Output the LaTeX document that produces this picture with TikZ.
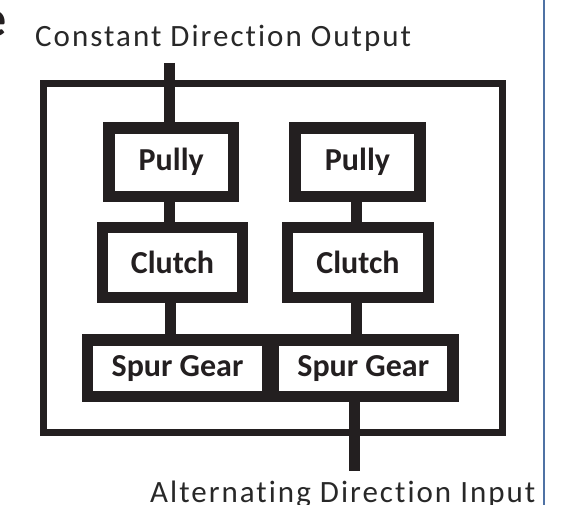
\documentclass[tikz,border=0pt]{standalone}
\usepackage{fontspec}
\setmainfont{Carlito}[Ligatures=NoCommon]
\newfontfamily\labelfont{Carlito}[Ligatures=NoCommon, LetterSpace=6.5]
\definecolor{ink}{RGB}{35,31,32}
\definecolor{txt}{RGB}{40,40,40}
\definecolor{rule}{RGB}{79,114,164}
\tikzset{
  part/.style={draw=ink, line width=11.5pt, rectangle, inner sep=0pt,
    font=\fontsize{32}{36}\selectfont\bfseries, text=ink},
  shaft/.style={draw=ink, line width=11pt},
  housing/.style={draw=ink, line width=7pt},
  label/.style={inner sep=0pt, font=\labelfont\fontsize{31}{36}\selectfont, text=txt}
}
\begin{document}
\begin{tikzpicture}[x=1pt,y=1pt]
\useasboundingbox (0,0) rectangle (586,-505);
% blue margin rule
\draw[rule, line width=2pt] (544,0) -- (544,-505);
% cut-off letter at top-left
\node[anchor=base east, inner sep=0pt, font=\fontsize{52}{56}\selectfont\bfseries, text=ink] (frag) at (7,-37) {e};
% housing
\draw[housing] (43.5,-83.5) rectangle (502.5,-432);
% parts
\node[part, minimum width=124.5pt, minimum height=68.5pt] (pullyL) at (171.25,-162.25) {Pully};
\node[part, minimum width=125pt, minimum height=68.5pt] (pullyR) at (357.5,-162.25) {Pully};
\node[part, minimum width=140pt, minimum height=70pt] (clutchL) at (172.5,-262.5) {Clutch};
\node[part, minimum width=141pt, minimum height=70pt] (clutchR) at (358,-262.5) {Clutch};
\node[part, minimum width=180pt, minimum height=56.5pt] (spurL) at (177.5,-368.25) {Spur Gear};
\node[part, minimum width=179.5pt, minimum height=56.5pt] (spurR) at (363.25,-368.25) {Spur Gear};
% shafts
\coordinate (out) at (169,-63);
\coordinate (in) at (354,-471);
\draw[shaft] (out) -- (out |- pullyL.north);
\draw[shaft] (out |- pullyL.south) -- (out |- clutchL.north);
\draw[shaft] (170,0 |- clutchL.south) -- (170,0 |- spurL.north);
\draw[shaft] (356.5,0 |- pullyR.south) -- (356.5,0 |- clutchR.north);
\draw[shaft] (356.5,0 |- clutchR.south) -- (356.5,0 |- spurR.north);
\draw[shaft] (in |- spurR.south) -- (in);
% labels
\node[label, anchor=base west] (outlbl) at (35,-47) {Constant Direction Output};
\node[label, anchor=base west] (inlbl) at (150,-502) {Alternating Direction Input};
\end{tikzpicture}
\end{document}
